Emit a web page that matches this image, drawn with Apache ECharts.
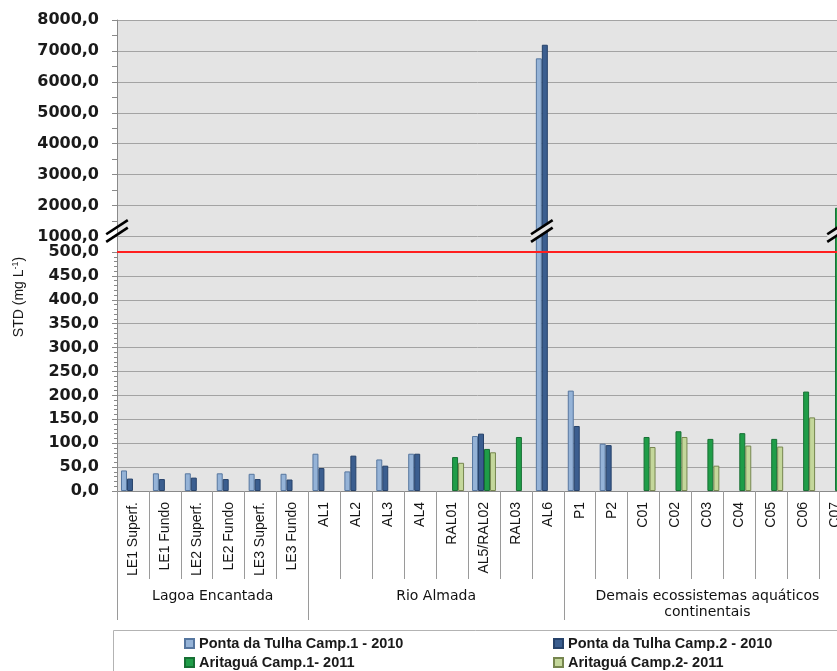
<!DOCTYPE html>
<html>
<head>
<meta charset="utf-8">
<script src="https://cdn.jsdelivr.net/npm/echarts@6/dist/echarts.min.js"></script>
<style>
  html, body { margin: 0; padding: 0; background: #ffffff; }
  #chart { width: 837px; height: 671px; }
</style>
</head>
<body>
<div id="chart"></div>
<script>
// Sampling points (x categories) and the groups they belong to
const categories = ['LE1 Superf.', 'LE1 Fundo', 'LE2 Superf.', 'LE2 Fundo', 'LE3 Superf.', 'LE3 Fundo',
  'AL1', 'AL2', 'AL3', 'AL4', 'RAL01', 'AL5/RAL02', 'RAL03', 'AL6',
  'P1', 'P2', 'C01', 'C02', 'C03', 'C04', 'C05', 'C06', 'C07'];
const groupNames = ['Lagoa Encantada', 'Rio Almada', 'Demais ecossistemas aquáticos\ncontinentais'];
const groupSizes = [6, 8, 9];

// Campaign names
const seriesNames = ['Ponta da Tulha Camp.1 - 2010', 'Ponta da Tulha Camp.2 - 2010',
  'Aritaguá Camp.1- 2011', 'Aritaguá Camp.2- 2011'];

// STD (mg/L) per campaign
const pontaTulha1 = [43, 37, 37, 37, 36, 36, 78, 41, 66, 78, null, 115, null, 6760, 210, 99,
  null, null, null, null, null, null, null];
const pontaTulha2 = [26, 25, 28, 25, 25, 24, 48, 74, 53, 78, null, 120, null, 7200, 136, 96,
  null, null, null, null, null, null, null];
const aritagua1 = [null, null, null, null, null, null, null, null, null, null, 71, 88, 113, null, null, null,
  113, 125, 109, 121, 109, 208, 1930];
const aritagua2 = [null, null, null, null, null, null, null, null, null, null, 59, 81, null, null, null, null,
  92, 113, 53, 95, 93, 154, null];

// Broken value axis: linear 0-500 below, 1000-8000 above
const lowerTickValues = [0, 50, 100, 150, 200, 250, 300, 350, 400, 450, 500];
const upperTickValues = [1000, 2000, 3000, 4000, 5000, 6000, 7000, 8000];
const limitValue = 500;        // reference limit drawn in red
const breakMarkValue = 1180;   // where the "//" break symbols sit on the upper scale

const allSeries = [pontaTulha1, pontaTulha2, aritagua1, aritagua2];
const fills = ['#95b3d7', '#3b5e8f', '#1f9d48', '#c4d79b'];
const borders = ['#56769f', '#26426a', '#177034', '#76864f'];

const gridBg = '#e4e4e4';
const gridLineColor = '#a3a3a3';
const axisColor = '#8a8a8a';
const fmt = v => v.toFixed(1).replace('.', ',');

const lowerMax = lowerTickValues[lowerTickValues.length - 1];
const upperMax = upperTickValues[upperTickValues.length - 1];
const upperStep = upperTickValues[1] - upperTickValues[0];

const chart = echarts.init(document.getElementById('chart'), null, { renderer: 'canvas' });

function barSeries(i, gridIdx) {
  return {
    name: seriesNames[i],
    type: 'bar',
    xAxisIndex: gridIdx,
    yAxisIndex: gridIdx,
    data: allSeries[i],
    clip: true,
    barGap: '0%',
    barCategoryGap: '25%',
    itemStyle: { color: fills[i], borderColor: borders[i], borderWidth: 1 },
    emphasis: { disabled: true },
    silent: true
  };
}

const series = [];
for (let i = 0; i < 4; i++) series.push(barSeries(i, 0));
for (let i = 0; i < 4; i++) series.push(barSeries(i, 1));
series[0].markLine = {
  silent: true,
  symbol: ['none', 'none'],
  label: { show: false },
  lineStyle: { color: '#ff1f1f', width: 2, type: 'solid' },
  data: [{ yAxis: limitValue }],
  z: 10
};

// legend: two columns, two rows
const legendText = { fontFamily: 'Liberation Sans', fontWeight: 'bold', fontSize: 14.5, color: '#1a1a1a' };
const legendSlots = [[184, 636], [553, 636], [184, 655], [553, 655]];
const legends = seriesNames.map((name, i) => ({
  data: [name],
  left: legendSlots[i][0], top: legendSlots[i][1],
  padding: 0,
  itemWidth: 9, itemHeight: 9, icon: 'rect',
  textStyle: legendText, selectedMode: false
}));

chart.setOption({
  animation: false,
  backgroundColor: '#ffffff',
  grid: [
    { left: 117, top: 252, width: 734, height: 239, show: true, backgroundColor: gridBg, borderWidth: 0,
      containLabel: false, outerBoundsMode: 'none' },
    { left: 117, top: 20, width: 734, height: 232, show: true, backgroundColor: gridBg, borderWidth: 0,
      containLabel: false, outerBoundsMode: 'none' }
  ],
  xAxis: [
    {
      type: 'category', gridIndex: 0, data: categories,
      axisLine: { show: true, lineStyle: { color: axisColor, width: 1 } },
      axisTick: { show: true, interval: 0, length: 88, lineStyle: { color: '#9a9a9a' } },
      axisLabel: { interval: 0, rotate: 90, margin: 11, fontSize: 14, fontFamily: 'Liberation Sans', color: '#151515' },
      splitLine: { show: false }
    },
    { type: 'category', gridIndex: 1, data: categories, show: false }
  ],
  yAxis: [
    {
      type: 'value', gridIndex: 0,
      min: lowerTickValues[0], max: lowerMax,
      interval: lowerTickValues[1] - lowerTickValues[0],
      axisLine: { show: true, lineStyle: { color: axisColor } },
      axisTick: { show: true, length: 5, lineStyle: { color: axisColor } },
      minorTick: { show: true, splitNumber: 5, length: 3, lineStyle: { color: axisColor } },
      axisLabel: { formatter: v => fmt(v), margin: 18, fontSize: 16, fontWeight: 'bold',
        fontFamily: 'DejaVu Sans', color: '#1a1a1a' },
      splitLine: { show: true, lineStyle: { color: gridLineColor, width: 1 } }
    },
    {
      type: 'value', gridIndex: 1,
      min: lowerMax, max: upperMax, interval: upperStep / 2,
      axisLine: { show: true, lineStyle: { color: axisColor } },
      axisTick: { show: true, length: 5, lineStyle: { color: axisColor } },
      axisLabel: {
        formatter: v => (upperTickValues.indexOf(v) >= 0 ? fmt(v) : ''),
        margin: 18, fontSize: 16, fontWeight: 'bold', fontFamily: 'DejaVu Sans', color: '#1a1a1a',
        showMinLabel: false
      },
      splitLine: { show: true, lineStyle: { color: ['rgba(0,0,0,0)', gridLineColor], width: 1 } }
    }
  ],
  legend: legends,
  series: series
});

// Decorations placed from the axes: group brackets, axis title, break symbols, legend frame
function buildDecorations() {
  const c0 = chart.convertToPixel({ xAxisIndex: 0 }, 0);
  const c1 = chart.convertToPixel({ xAxisIndex: 0 }, 1);
  const band = c1 - c0;
  const left = c0 - band / 2;
  const axisY = chart.convertToPixel({ yAxisIndex: 0 }, 0);
  const g = [];

  // group separators and titles
  let start = 0;
  const bounds = [0];
  groupSizes.forEach(n => { start += n; bounds.push(start); });
  bounds.forEach(b => {
    const x = Math.round(left + b * band) + 0.5;
    g.push({ type: 'line', shape: { x1: x, y1: axisY, x2: x, y2: axisY + 129 },
      style: { stroke: '#9a9a9a', lineWidth: 1 }, silent: true });
  });
  groupNames.forEach((name, k) => {
    const cx = left + (bounds[k] + groupSizes[k] / 2) * band;
    g.push({ type: 'text', x: cx, y: axisY + 97, silent: true,
      style: { text: name, align: 'center', verticalAlign: 'top', lineHeight: 16,
        font: '14px "DejaVu Sans"', fill: '#111111' } });
  });

  // y axis title
  g.push({ type: 'text', x: 19, y: 297, rotation: Math.PI / 2, silent: true,
    style: {
      text: '{a|STD (mg L}{s|-1}{a|)}', align: 'center', verticalAlign: 'middle',
      rich: {
        a: { fontFamily: 'Liberation Sans', fontSize: 14, fill: '#1a1a1a', color: '#1a1a1a' },
        s: { fontFamily: 'Liberation Sans', fontSize: 9, fill: '#1a1a1a', color: '#1a1a1a', verticalAlign: 'top', padding: [0, 0, 6, 0] }
      }
    } });

  // break symbols: on the axis and on every bar that crosses the break
  const cy = chart.convertToPixel({ yAxisIndex: 1 }, breakMarkValue);
  const barW = band * 0.75 / 4;
  const centers = [{ x: left, fill: false }];
  categories.forEach((cat, i) => {
    const slots = [];
    allSeries.forEach((arr, s) => { if (arr[i] != null && arr[i] > lowerMax) slots.push(s); });
    if (slots.length) {
      const mean = slots.reduce((a, b) => a + b, 0) / slots.length;
      centers.push({ x: left + i * band + band * 0.125 + barW * (mean + 0.5), fill: true });
    }
  });
  const hx = 10.8, hy = 7.1, sep = 3.8;
  centers.forEach(m => {
    const tl = [m.x - hx, cy - sep + hy], tr = [m.x + hx, cy - sep - hy];
    const bl = [m.x - hx, cy + sep + hy], br = [m.x + hx, cy + sep - hy];
    if (m.fill) {
      g.push({ type: 'polygon', shape: { points: [tl, tr, br, bl] }, style: { fill: gridBg }, z: 50, silent: true });
    }
    g.push({ type: 'line', shape: { x1: tl[0], y1: tl[1], x2: tr[0], y2: tr[1] },
      style: { stroke: '#000', lineWidth: 2.6 }, z: 51, silent: true });
    g.push({ type: 'line', shape: { x1: bl[0], y1: bl[1], x2: br[0], y2: br[1] },
      style: { stroke: '#000', lineWidth: 2.6 }, z: 51, silent: true });
  });

  // legend frame
  g.push({ type: 'rect', shape: { x: Math.round(left) - 3.5, y: 630.5, width: 800, height: 80 },
    style: { fill: 'none', stroke: '#b3b3b3', lineWidth: 1 }, silent: true });

  chart.setOption({ graphic: g });
}
buildDecorations();
</script>
</body>
</html>
